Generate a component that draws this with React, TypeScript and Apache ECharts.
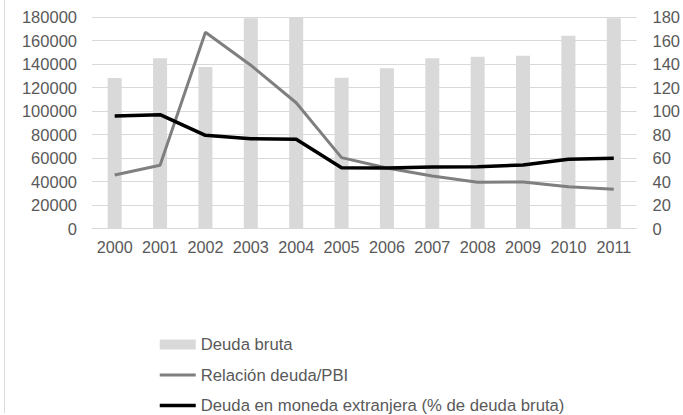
import React, { useEffect, useRef } from "react";
import * as echarts from "echarts";

const years = ["2000", "2001", "2002", "2003", "2004", "2005", "2006", "2007", "2008", "2009", "2010", "2011"];
const deudaBruta = [128000, 144800, 137500, 179000, 180000, 128300, 136400, 144800, 146200, 147000, 164100, 179000];
const relacionDeudaPBI = [45.5, 53.8, 167.0, 139.0, 107.0, 60.3, 51.5, 44.7, 39.3, 39.6, 35.6, 33.4];
const deudaMonedaExtranjera = [95.7, 96.9, 79.3, 76.4, 75.9, 51.7, 51.5, 52.3, 52.6, 54.0, 58.9, 59.7];

const FONT = "'Liberation Sans', Arial, sans-serif";
const TXT = "#595959";
const GRID = "#d9d9d9";

export default function App() {
  const ref = useRef<HTMLDivElement>(null);
  useEffect(() => {
    if (!ref.current) return;
    const chart = echarts.init(ref.current, null, { renderer: "svg" });
    chart.setOption({
      animation: false,
      backgroundColor: "#ffffff",
      textStyle: { fontFamily: FONT },
      grid: { left: 92, right: 44, top: 17, bottom: 186.5, containLabel: false },
      legend: {
        orient: "vertical",
        left: 158,
        top: 336,
        height: 100,
        width: 500,
        padding: 0,
        itemWidth: 36,
        itemHeight: 10,
        itemGap: 13.5,
        lineStyle: { width: "inherit" },
        textStyle: { fontFamily: FONT, fontSize: 16.7, color: TXT, lineHeight: 16 },
        data: [
          { name: "Deuda bruta", icon: "rect" },
          { name: "Relación deuda/PBI", itemStyle: { opacity: 0 } },
          { name: "Deuda en moneda extranjera (% de deuda bruta)", itemStyle: { opacity: 0 } },
        ],
      },
      xAxis: {
        type: "category",
        data: years,
        axisTick: { show: false },
        axisLine: { lineStyle: { color: GRID, width: 1 } },
        axisLabel: { fontFamily: FONT, fontSize: 16.2, color: TXT, margin: 10, interval: 0 },
      },
      yAxis: [
        {
          type: "value",
          min: 0,
          max: 180000,
          interval: 20000,
          axisLine: { show: false },
          axisTick: { show: false },
          splitLine: { lineStyle: { color: GRID, width: 1 } },
          axisLabel: {
            fontFamily: FONT,
            fontSize: 16.5,
            color: TXT,
            margin: 15,
            formatter: (v: number) => String(v),
          },
        },
        {
          type: "value",
          min: 0,
          max: 180,
          interval: 20,
          position: "right",
          axisLine: { show: false },
          axisTick: { show: false },
          splitLine: { show: false },
          axisLabel: { fontFamily: FONT, fontSize: 16.5, color: TXT, margin: 16, align: "left" },
        },
      ],
      series: [
        {
          name: "Deuda bruta",
          type: "bar",
          data: deudaBruta,
          barWidth: 14,
          itemStyle: { color: "#d9d9d9" },
          yAxisIndex: 0,
        },
        {
          name: "Relación deuda/PBI",
          type: "line",
          data: relacionDeudaPBI,
          yAxisIndex: 1,
          symbol: "none",
          lineStyle: { color: "#7f7f7f", width: 3 },
          itemStyle: { color: "#7f7f7f" },
        },
        {
          name: "Deuda en moneda extranjera (% de deuda bruta)",
          type: "line",
          data: deudaMonedaExtranjera,
          yAxisIndex: 1,
          symbol: "none",
          lineStyle: { color: "#000000", width: 3.5 },
          itemStyle: { color: "#000000" },
        },
      ],
      graphic: [
        {
          type: "line",
          shape: { x1: 4.5, y1: 0, x2: 4.5, y2: 413 },
          style: { stroke: GRID, lineWidth: 1 },
        },
      ],
    });
    return () => chart.dispose();
  }, []);
  return (
    <div
      ref={ref}
      style={{ position: "absolute", left: 0, top: 0, width: 683, height: 415 }}
    />
  );
}
